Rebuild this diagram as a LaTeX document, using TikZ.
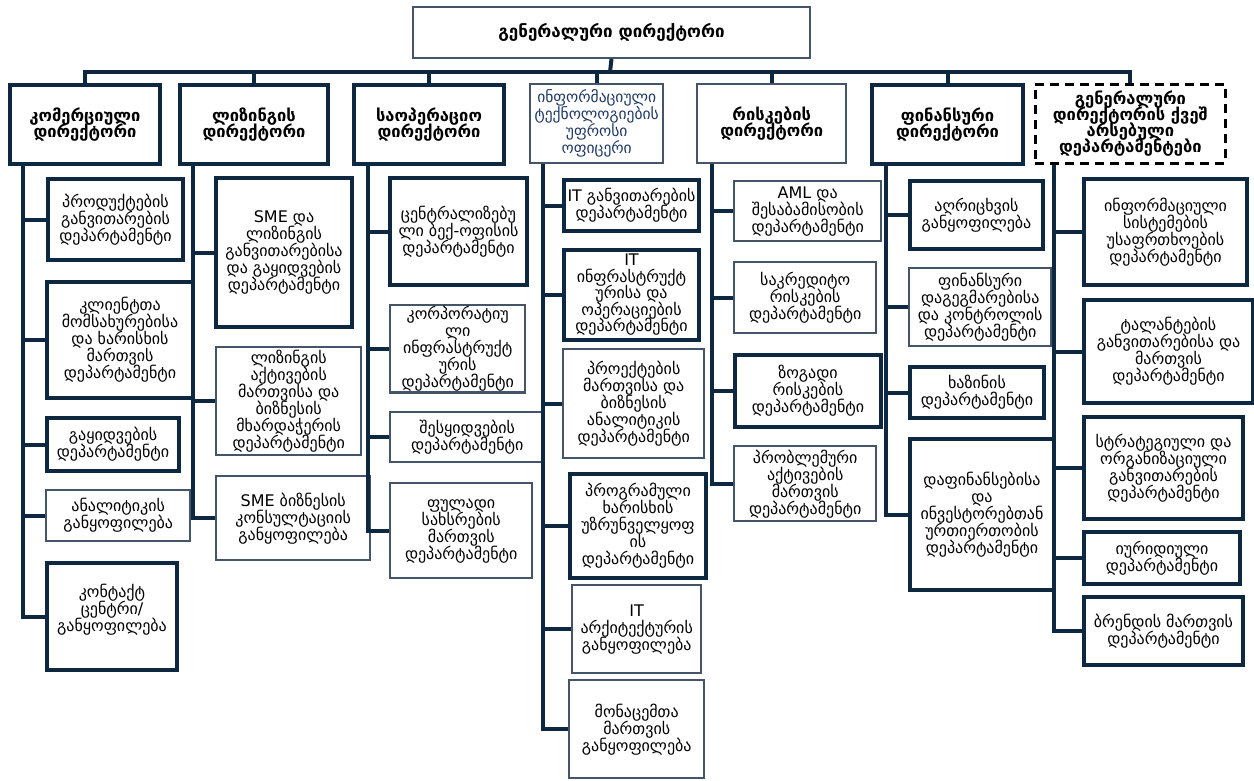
\documentclass[tikz,border=0pt]{standalone}
\usepackage{fontspec}
\setmainfont{DejaVu Sans}
\usepackage{graphicx}
\usetikzlibrary{calc}
\definecolor{navy}{HTML}{0E2841}
\definecolor{slate}{HTML}{44546A}
\definecolor{ittext}{HTML}{1F3864}
\newsavebox\fitsave
\newcommand\fitbox[2]{\sbox\fitsave{\vbox{\lineskiplimit=-\maxdimen\def\\{\cr}\halign{\hfil##\hfil\cr#2\crcr}}}%
  \ifdim\wd\fitsave>#1\resizebox{#1}{!}{\usebox\fitsave}\else\usebox\fitsave\fi}
\newcommand\bx[7]{\node[#2, minimum width={#5-#3}, minimum height={#6-#4}, anchor=north west] (#1) at (#3,#4) {\fitbox{\dimexpr #5pt-#3pt-7pt\relax}{#7}};}
\begin{document}
\begin{tikzpicture}[x=1pt,y=-1pt,
  base/.style={fill=white, inner sep=1pt, font=\fontsize{16}{17}\selectfont},
  heavy/.style={base, draw=navy, line width=4pt},
  light/.style={base, draw=slate, line width=2.4pt},
  topbox/.style={base, draw=slate, line width=2pt, font=\fontsize{17}{17}\selectfont\bfseries},
  headheavy/.style={heavy, font=\fontsize{16.5}{16.5}\selectfont\bfseries},
  headlight/.style={light, font=\fontsize{16.5}{16.5}\selectfont\bfseries},
  headit/.style={light, text=ittext, font=\fontsize{15.5}{17}\selectfont},
  headdash/.style={base, draw=black, line width=2.8pt, dash pattern=on 9pt off 6pt, font=\fontsize{16.5}{16}\selectfont\bfseries},
  conn/.style={draw=navy, line width=4pt, line join=miter}]
\useasboundingbox (0,0) rectangle (1254,780);
% top
\bx{gm}{topbox}{412}{6}{809}{57}{გენერალური დირექტორი}
% level 1
\bx{com}{headheavy}{8}{83}{158}{162}{კომერციული\\დირექტორი}
\bx{lea}{headheavy}{178}{83}{326}{162}{ლიზინგის\\დირექტორი}
\bx{ops}{headheavy}{352}{83}{502}{162}{საოპერაციო\\დირექტორი}
\bx{it}{headit}{529}{83}{662}{162}{ინფორმაციული\\ტექნოლოგიების\\უფროსი\\ოფიცერი}
\bx{risk}{headlight}{696}{83}{845}{162}{რისკების\\დირექტორი}
\bx{fin}{headheavy}{870}{83}{1021}{162}{ფინანსური\\დირექტორი}
\bx{sub}{headdash}{1034}{83}{1224}{162}{გენერალური\\დირექტორის ქვეშ\\არსებული\\დეპარტამენტები}
% column 1
\bx{c1}{heavy}{46}{177}{181}{258}{პროდუქტების\\განვითარების\\დეპარტამენტი}
\bx{c2}{heavy}{45}{280}{191}{396}{კლიენტთა\\მომსახურებისა\\და ხარისხის\\მართვის\\დეპარტამენტი}
\bx{c3}{heavy}{45}{416}{177}{469}{გაყიდვების\\დეპარტამენტი}
\bx{c4}{light}{45}{489}{189}{540}{ანალიტიკის\\განყოფილება}
\bx{c5}{heavy}{45}{561}{175}{668}{კონტაქტ\\ცენტრი/\\განყოფილება\\~}
% column 2
\bx{l1}{heavy}{214}{176}{350}{325}{SME და\\ლიზინგის\\განვითარებისა\\და გაყიდვების\\დეპარტამენტი}
\bx{l2}{light}{215}{346}{360}{454}{ლიზინგის\\აქტივების\\მართვისა და\\ბიზნესის\\მხარდაჭერის\\დეპარტამენტი}
\bx{l3}{light}{215}{475}{369}{559}{SME ბიზნესის\\კონსულტაციის\\განყოფილება}
% column 3
\bx{o1}{heavy}{388}{176}{525}{283}{ცენტრალიზებუ\\ლი ბექ-ოფისის\\დეპარტამენტი}
\bx{o2}{light}{389}{304}{524}{389}{კორპორატიუ\\ლი\\ინფრასტრუქტ\\ურის\\დეპარტამენტი}
\bx{o3}{light}{389}{411}{543}{461}{შესყიდვების\\დეპარტამენტი}
\bx{o4}{light}{389}{482}{531}{577}{ფულადი\\სახსრების\\მართვის\\დეპარტამენტი}
% column 4
\bx{i1}{heavy}{562}{178}{697}{229}{IT განვითარების\\დეპარტამენტი}
\bx{i2}{heavy, font=\fontsize{16}{16.5}\selectfont}{562}{248}{697}{338}{IT\\ინფრასტრუქტ\\ურისა და\\ოპერაციების\\დეპარტამენტი}
\bx{i3}{light}{562}{348}{703}{457}{პროექტების\\მართვისა და\\ბიზნესის\\ანალიტიკის\\დეპარტამენტი}
\bx{i4}{heavy}{568}{472}{704}{576}{პროგრამული\\ხარისხის\\უზრუნველყოფ\\ის\\დეპარტამენტი}
\bx{i5}{light}{571}{584}{700}{672}{IT\\არქიტექტურის\\განყოფილება}
\bx{i6}{light}{568}{679}{703}{777}{მონაცემთა\\მართვის\\განყოფილება}
% column 5
\bx{r1}{light}{733}{180}{880}{240}{AML და\\შესაბამისობის\\დეპარტამენტი}
\bx{r2}{light}{733}{261}{875}{332}{საკრედიტო\\რისკების\\დეპარტამენტი}
\bx{r3}{heavy}{733}{353}{879}{425}{ზოგადი\\რისკების\\დეპარტამენტი}
\bx{r4}{light}{733}{445}{875}{520}{პრობლემური\\აქტივების\\მართვის\\დეპარტამენტი}
% column 6
\bx{f1}{heavy}{908}{179}{1041}{247}{აღრიცხვის\\განყოფილება}
\bx{f2}{light}{908}{267}{1050}{345}{ფინანსური\\დაგეგმარებისა\\და კონტროლის\\დეპარტამენტი}
\bx{f3}{heavy}{908}{365}{1042}{416}{ხაზინის\\დეპარტამენტი}
\bx{f4}{heavy}{908}{437}{1052}{588}{დაფინანსებისა\\და\\ინვესტორებთან\\ურთიერთობის\\დეპარტამენტი}
% column 7
\bx{s1}{heavy}{1082}{177}{1245}{283}{ინფორმაციული\\სისტემების\\უსაფრთხოების\\დეპარტამენტი}
\bx{s2}{heavy}{1082}{298}{1251}{401}{ტალანტების\\განვითარებისა და\\მართვის\\დეპარტამენტი}
\bx{s3}{heavy}{1082}{415}{1241}{517}{სტრატეგიული და\\ორგანიზაციული\\განვითარების\\დეპარტამენტი}
\bx{s4}{heavy}{1082}{530}{1238}{582}{იურიდიული\\დეპარტამენტი}
\bx{s5}{heavy}{1082}{595}{1241}{663}{ბრენდის მართვის\\დეპარტამენტი}
% top connectors
\coordinate (bar) at (610,72);
\draw[conn] (gm.south) -- (bar);
\foreach \n in {com,lea,ops,it,risk,fin,sub} {\draw[conn] (bar) -| (\n.north);}
% spines
\foreach \c in {c1,c2,c3,c4,c5} {\draw[conn] ($(com.south west)+(15,0)$) |- (\c.west);}
\foreach \c in {l1,l2,l3} {\draw[conn] ($(lea.south west)+(15,0)$) |- (\c.west);}
\foreach \c in {o1,o2,o3,o4} {\draw[conn] ($(ops.south west)+(16,0)$) |- (\c.west);}
\foreach \c in {i1,i2,i3,i4,i5,i6} {\draw[conn] ($(it.south west)+(14,0)$) |- (\c.west);}
\foreach \c in {r1,r2,r3,r4} {\draw[conn] ($(risk.south west)+(16,0)$) |- (\c.west);}
\foreach \c in {f1,f2,f3,f4} {\draw[conn] ($(fin.south west)+(16,0)$) |- (\c.west);}
\foreach \c in {s1,s2,s3,s4,s5} {\draw[conn] ($(sub.south west)+(20,0)$) |- (\c.west);}
\end{tikzpicture}
\end{document}
